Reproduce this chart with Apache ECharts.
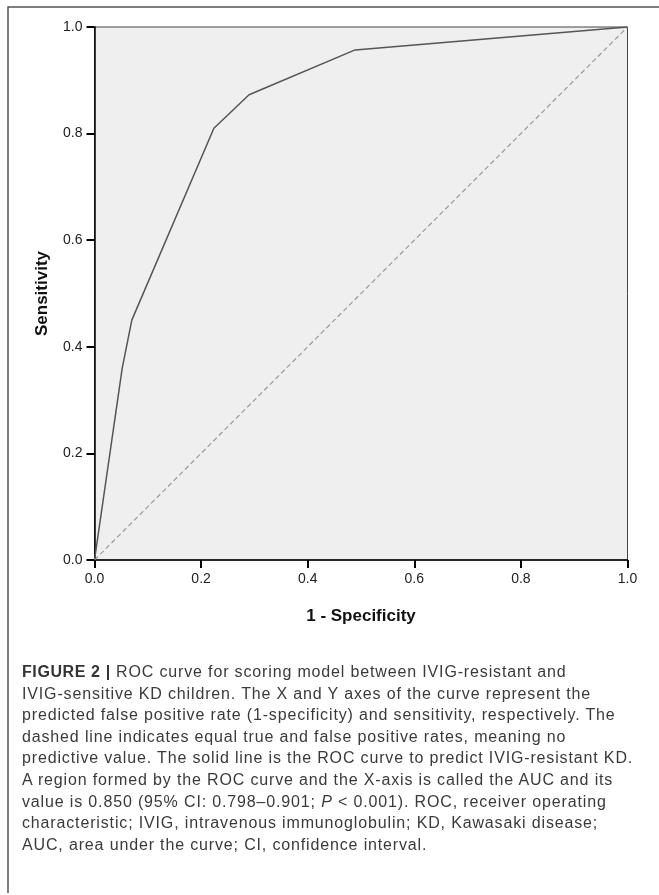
<!DOCTYPE html>
<html>
<head>
<meta charset="utf-8">
<script src="https://cdn.jsdelivr.net/npm/echarts@6/dist/echarts.min.js"></script>
<style>
html,body{margin:0;padding:0;background:#fff;}
#chart{position:absolute;left:0;top:0;width:659px;height:895px;}
#caption{position:absolute;left:22px;top:661px;width:636px;font-family:"Liberation Sans",Arial,sans-serif;font-size:16px;letter-spacing:0.85px;line-height:21.6px;color:#3a3a3a;white-space:nowrap;}
#caption b{color:#333;letter-spacing:0.6px;}
</style>
</head>
<body>
<div id="chart"></div>
<div id="caption">
<b>FIGURE 2 |</b> ROC curve for scoring model between IVIG-resistant and<br>
IVIG-sensitive KD children. The X and Y axes of the curve represent the<br>
predicted false positive rate (1-specificity) and sensitivity, respectively. The<br>
dashed line indicates equal true and false positive rates, meaning no<br>
predictive value. The solid line is the ROC curve to predict IVIG-resistant KD.<br>
A region formed by the ROC curve and the X-axis is called the AUC and its<br>
value is 0.850 (95% CI: 0.798–0.901; <i>P</i> &lt; 0.001). ROC, receiver operating<br>
characteristic; IVIG, intravenous immunoglobulin; KD, Kawasaki disease;<br>
AUC, area under the curve; CI, confidence interval.
</div>
<script>
// ROC curve (1 - specificity, sensitivity)
const rocFpr = [0, 0.052, 0.070, 0.224, 0.290, 0.489, 1.0];
const rocTpr = [0, 0.360, 0.450, 0.810, 0.873, 0.957, 1.0];
// reference diagonal
const diagFpr = [0, 1];
const diagTpr = [0, 1];

const chart = echarts.init(document.getElementById('chart'), null, {renderer: 'canvas'});
const font = '"Liberation Sans", Arial, sans-serif';
const axisCommon = {
  type: 'value', min: 0, max: 1, interval: 0.2,
  axisLine: {show: true, onZero: false, lineStyle: {color: '#000', width: 1.5}},
  axisTick: {show: true, length: 8, lineStyle: {color: '#000', width: 2}},
  axisLabel: {color: '#222', fontSize: 14, fontFamily: font, margin: 12,
    formatter: v => v.toFixed(1)},
  splitLine: {show: false},
  nameLocation: 'middle',
  nameTextStyle: {color: '#111', fontSize: 17, fontWeight: 'bold', fontFamily: font}
};
chart.setOption({
  animation: false,
  grid: {left: 94.5, top: 27, width: 533, height: 533, show: true,
    backgroundColor: '#efefef', borderColor: '#444', borderWidth: 1},
  xAxis: Object.assign({}, axisCommon, {name: '1 - Specificity', nameGap: 48}),
  yAxis: Object.assign({}, axisCommon, {name: 'Sensitivity', nameGap: 44}),
  graphic: [
    {type: 'polyline', silent: true, shape: {points: [[8, 893], [8, 7], [659, 7]]},
     style: {stroke: '#555', lineWidth: 1.5, fill: null}}
  ],
  series: [
    {type: 'line', data: diagFpr.map((x, i) => [x, diagTpr[i]]), symbol: 'none',
     lineStyle: {color: '#9a9a9a', width: 1.2, type: [5, 3]}, z: 2},
    {type: 'line', data: rocFpr.map((x, i) => [x, rocTpr[i]]), symbol: 'none',
     lineStyle: {color: '#555', width: 1.5}, z: 3}
  ]
});
</script>
</body>
</html>
